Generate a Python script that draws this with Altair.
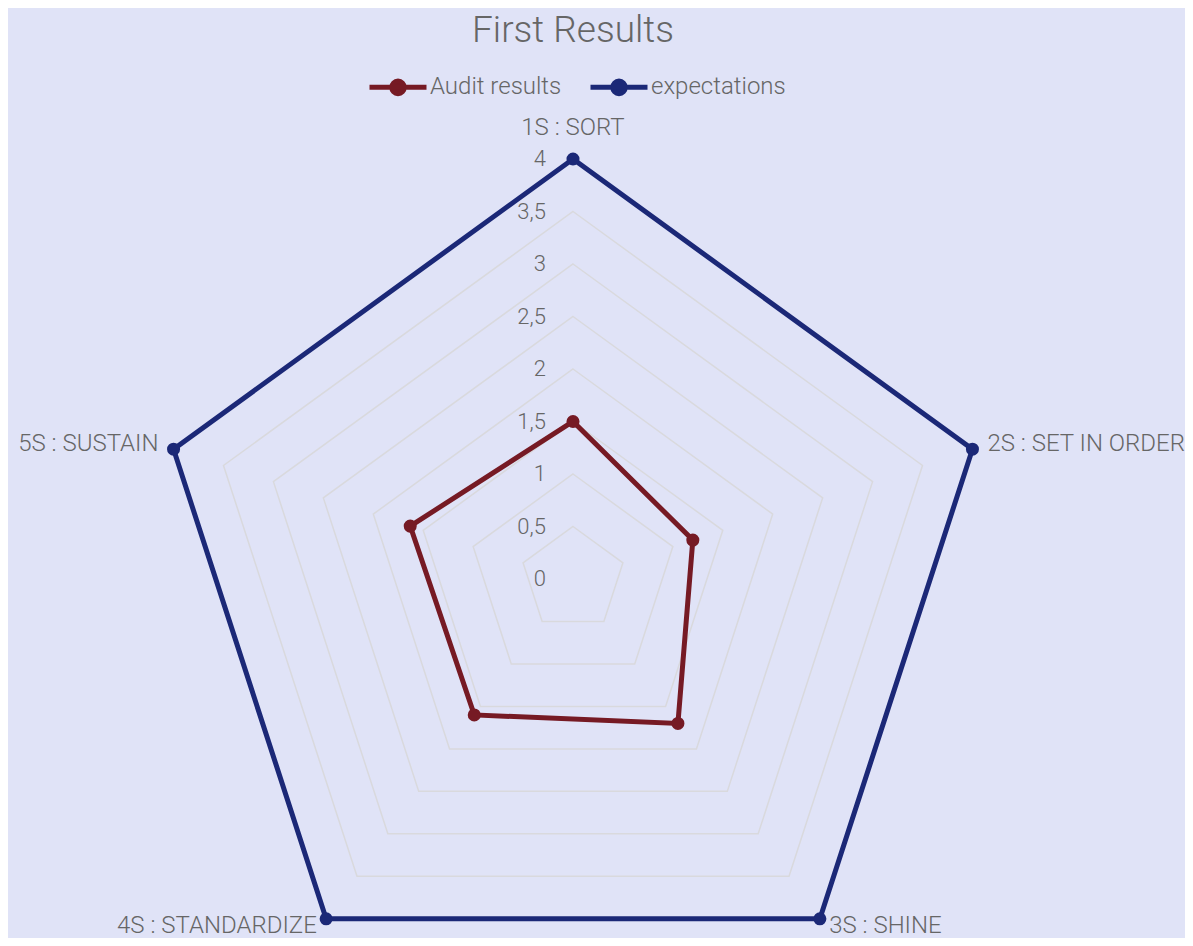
import altair as alt
import pandas as pd

categories = ["1S : SORT", "2S : SET IN ORDER", "3S : SHINE", "4S : STANDARDIZE", "5S : SUSTAIN"]
audit_results = [1.5, 1.2, 1.7, 1.6, 1.63]
expectations = [4, 4, 4, 4, 4]
series_names = ["Audit results", "expectations"]
series_colors = ["#761A24", "#1B2877"]
levels = [0.5, 1, 1.5, 2, 2.5, 3, 3.5, 4]
tick_values = [0, 0.5, 1, 1.5, 2, 2.5, 3, 3.5, 4]
tick_labels = ["0", "0,5", "1", "1,5", "2", "2,5", "3", "3,5", "4"]

N = len(categories)
FONT = "Roboto"
TXT = "#666666"
BG = "#E0E3F7"

rows = []
for name, vals in zip(series_names, [audit_results, expectations]):
    for i, v in enumerate(vals):
        rows.append({"series": name, "idx": i, "value": v, "cat": categories[i]})
series_df = pd.DataFrame(rows)

grid_df = pd.DataFrame([{"level": l, "idx": i} for l in levels for i in range(N)])
tick_df = pd.DataFrame({"value": tick_values, "label": tick_labels})
cat_df = pd.DataFrame({"cat": categories, "idx": list(range(N))})

W, H = 1130, 880
PT, PR = 50, 47
UNIT = 105.0
CX, CY = 565.0, 579.0 - 8 - PT
xdom = [-CX / UNIT, (W - CX) / UNIT]
ydom = [-(H - CY) / UNIT, CY / UNIT]

xs = alt.Scale(domain=xdom, nice=False, zero=False)
ys = alt.Scale(domain=ydom, nice=False, zero=False)

ang = f"datum.idx * 2 * PI / {N}"

grid = alt.Chart(grid_df).transform_calculate(
    gx=f"datum.level * sin({ang})", gy=f"datum.level * cos({ang})"
).mark_line(interpolate="linear-closed", stroke="#D9D9DD", strokeWidth=1.5).encode(
    x=alt.X("gx:Q", scale=xs, axis=None),
    y=alt.Y("gy:Q", scale=ys, axis=None),
    detail="level:N",
    order="idx:Q",
)

color = alt.Color(
    "series:N",
    scale=alt.Scale(domain=series_names, range=series_colors),
    legend=alt.Legend(
        title=None,
        orient="none",
        direction="horizontal",
        legendX=359,
        legendY=-2,
        symbolType="M-1,0L1,0M-0.22,0A0.22,0.22,0,1,1,0.22,0A0.22,0.22,0,1,1,-0.22,0Z",
        symbolSize=3249,
        symbolStrokeWidth=5,
        symbolOpacity=1,
        labelFont=FONT,
        labelFontSize=24,
        labelFontWeight=300,
        labelColor=TXT,
        labelOffset=1,
        columnPadding=18,
        labelLimit=300,
    ),
)

base = alt.Chart(series_df).transform_calculate(
    px=f"datum.value * sin({ang})", py=f"datum.value * cos({ang})"
)
lines = base.mark_line(interpolate="linear-closed", strokeWidth=5).encode(
    x=alt.X("px:Q", scale=xs, axis=None),
    y=alt.Y("py:Q", scale=ys, axis=None),
    color=color,
    detail="series:N",
    order="idx:Q",
)
points = base.mark_circle(size=170, opacity=1).encode(
    x=alt.X("px:Q", scale=xs, axis=None),
    y=alt.Y("py:Q", scale=ys, axis=None),
    color=color,
)

ticks = alt.Chart(tick_df).transform_calculate(tx="0").mark_text(
    align="right", baseline="middle", dx=-27, font=FONT, fontSize=22, fontWeight=300, color=TXT
).encode(
    x=alt.X("tx:Q", scale=xs, axis=None),
    y=alt.Y("value:Q", scale=ys, axis=None),
    text="label:N",
)

cat_base = alt.Chart(cat_df).transform_calculate(
    lr="datum.idx == 0 ? 4.3 : 4.15"
).transform_calculate(
    lx=f"datum.lr * sin({ang})", ly=f"datum.lr * cos({ang})"
)
def cat_layer(flt, align, dy=0):
    return cat_base.transform_filter(flt).mark_text(
        align=align, baseline="middle", dy=dy, font=FONT, fontSize=24, fontWeight=300, color=TXT
    ).encode(
        x=alt.X("lx:Q", scale=xs, axis=None),
        y=alt.Y("ly:Q", scale=ys, axis=None),
        text="cat:N",
    )

cat_top = cat_layer("datum.idx == 0", "center")
cat_right_side = cat_layer("datum.idx == 1", "left")
cat_bottom_right = cat_layer("datum.idx == 2", "left", dy=-6)
cat_bottom_left = cat_layer("datum.idx == 3", "right", dy=-6)
cat_left_side = cat_layer("datum.idx == 4", "right")

chart = alt.layer(
    grid, lines, points, ticks,
    cat_top, cat_right_side, cat_bottom_right, cat_bottom_left, cat_left_side,
).properties(
    width=W,
    height=H,
    autosize=alt.AutoSizeParams(type="none"),
    padding={"left": 0, "top": PT, "right": PR, "bottom": 0},
    background=BG,
    title=alt.Title(
        "First Results", font=FONT, fontSize=37, fontWeight=300, color=TXT,
        anchor="middle", offset=6,
    ),
).configure_view(stroke=None)

chart.save("out.html", embed_options={"renderer": "svg", "actions": False})
